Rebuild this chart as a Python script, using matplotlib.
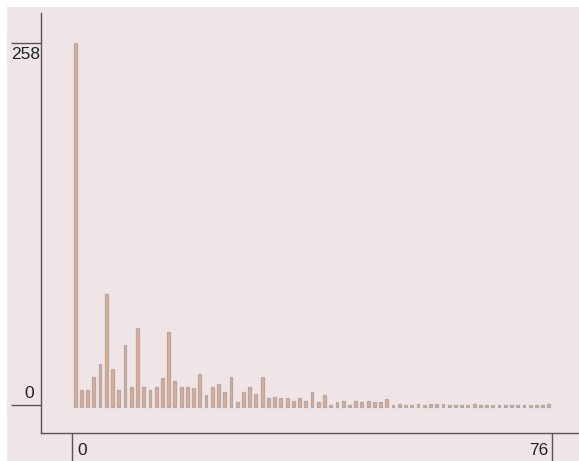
import numpy as np
import matplotlib
matplotlib.use("Agg")
import matplotlib.pyplot as plt
from matplotlib.patches import Rectangle

# counts per bin, bins 0..76
counts = [258, 11, 11, 20, 29, 79, 26, 11, 43, 13,
          55, 13, 11, 13, 19, 52, 17, 13, 13, 12,
          22, 7, 13, 15, 9, 20, 2, 9, 13, 8,
          20, 5, 6, 5, 5, 3, 5, 3, 9, 2,
          7, 0, 2, 3, 0, 3, 2, 3, 2, 2,
          4, 0, 1, 0, 0, 1, 0, 1, 1, 1,
          0, 0, 0, 0, 1, 0, 0, 0, 0, 0,
          0, 0, 0, 0, 0, 0, 1]
x_ticks = [0, 76]
y_ticks = [0, 258]

bg = "#efe5e6"
axis_col = "#555555"
fill_col = "#e8aa8a"
edge_col = "#b3a8a6"
font = ["Liberation Sans Narrow", "Liberation Sans", "DejaVu Sans"]

W, H = 579, 461
fig = plt.figure(figsize=(W / 100, H / 100), dpi=100)
fig.patch.set_facecolor("white")
fig.patches.append(Rectangle((7 / W, 0), (W - 7) / W, (H - 7) / H,
                             transform=fig.transFigure, facecolor=bg,
                             edgecolor="none", zorder=-10))

ax = fig.add_axes([41 / W, 28 / H, 538 / W, 420 / H])
ax.set_facecolor(bg)

n = len(counts)
# each bin gets an equal slot across the 0..76 range
pos = (np.arange(n) + 0.5) * (x_ticks[1] - x_ticks[0]) / n
ax.bar(pos, np.array(counts) + 1.64, bottom=-1.64, width=0.45,
       color=fill_col, edgecolor=edge_col, linewidth=0.9)

ax.set_xlim(-4.91, 80.27)
ax.set_ylim(-19.97, 279.6)

for s in ["top", "right"]:
    ax.spines[s].set_visible(False)
for s in ["left", "bottom"]:
    ax.spines[s].set_color(axis_col)
    ax.spines[s].set_linewidth(1.0)

ax.set_xticks(x_ticks)
ax.set_yticks(y_ticks)
ax.set_xticklabels([])
ax.set_yticklabels([])
ax.tick_params(axis="y", length=21.6, width=1.0, color=axis_col, direction="out")
ax.tick_params(axis="x", length=20.2, width=1.0, color=axis_col, direction="out")

txt = dict(fontsize=12.5, family=font, color="#222222", va="baseline",
           annotation_clip=False)
yt = ax.get_yaxis_transform()
xt = ax.get_xaxis_transform()
ax.annotate(str(y_ticks[1]), (0, y_ticks[1]), xycoords=yt, xytext=(-30, -16),
            textcoords="offset pixels", ha="left", **txt)
ax.annotate(str(y_ticks[0]), (0, y_ticks[0]), xycoords=yt, xytext=(-7, 7),
            textcoords="offset pixels", ha="right", **txt)
ax.annotate(str(x_ticks[0]), (x_ticks[0], 0), xycoords=xt, xytext=(5, -22),
            textcoords="offset pixels", ha="left", **txt)
ax.annotate(str(x_ticks[1]), (x_ticks[1], 0), xycoords=xt, xytext=(-4, -22),
            textcoords="offset pixels", ha="right", **txt)

fig.savefig("out.png", dpi=100, facecolor=fig.get_facecolor())
